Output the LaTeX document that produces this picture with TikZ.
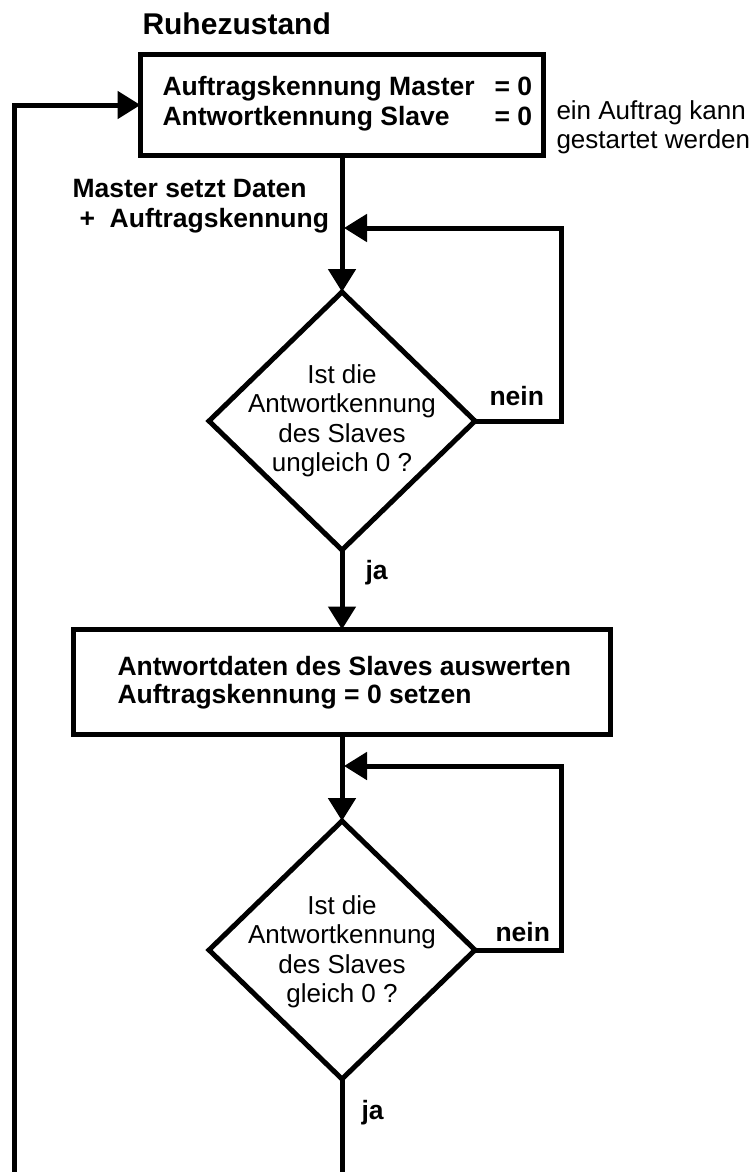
\documentclass[tikz,border=0pt]{standalone}
\usepackage{fontspec}
\setmainfont{Liberation Sans}
\usetikzlibrary{shapes.geometric,arrows.meta}
\begin{document}
\begin{tikzpicture}[x=1pt,y=-1pt,
  line width=5pt,
  arr/.style={-{Triangle[length=23pt,width=27pt]}},
  procbox/.style={draw, rectangle, inner sep=0pt, outer sep=0pt},
  decision/.style={draw, diamond, inner sep=0pt, outer sep=0pt, minimum width=266pt, minimum height=258pt},
  txt/.style={inner sep=0pt, font=\fontsize{26}{29.5}\selectfont, align=center},
  ltxt/.style={inner sep=0pt, font=\fontsize{26}{29.5}\selectfont},
  btxt/.style={inner sep=0pt, font=\fontsize{26.5}{30}\selectfont\bfseries},
  ]
\useasboundingbox (0,0) rectangle (754,1172);
\fill[white] (0,0) rectangle (754,1172);

% title
\node[inner sep=0pt, font=\fontsize{30}{34}\selectfont\bfseries, anchor=base west] (title) at (140,35) {Ruhezustand};

% box 1
\node[procbox, minimum width=403pt, minimum height=101pt] (b1) at (342,105) {};
\node[btxt, anchor=base west] (t1) at (160,95) {\fontsize{26.5}{31}\selectfont\begin{tabular}[t]{@{}l@{\hspace{20pt}}r@{}}Auftragskennung Master & = 0\\ Antwortkennung Slave & = 0\end{tabular}};
\node[ltxt, anchor=base west] (side) at (554,119) {\begin{tabular}[t]{@{}l@{}}ein Auftrag kann\\ gestartet werden\end{tabular}};

% label between
\node[btxt, anchor=base west] (ms) at (70,197) {\begin{tabular}[t]{@{}l@{}}Master setzt Daten\\ \hspace{7pt}+\ \ Auftragskennung\end{tabular}};

% diamond 1
\node[decision] (d1) at (342,421) {};
\node[txt] (d1t) at (342,421) {Ist die\\ Antwortkennung\\ des Slaves\\ ungleich 0 ?};
\node[btxt, anchor=base west] (n1) at (487,405) {nein};
\node[btxt, anchor=base west] (j1) at (363,579) {ja};

% box 2
\node[procbox, minimum width=537pt, minimum height=105pt] (b2) at (342,682) {};
\node[btxt, anchor=base west] (t2) at (115,675) {\fontsize{26.5}{28}\selectfont\begin{tabular}[t]{@{}l@{}}Antwortdaten des Slaves auswerten\\ Auftragskennung = 0 setzen\end{tabular}};

% diamond 2
\node[decision] (d2) at (342,950) {};
\node[txt] (d2t) at (342,952) {Ist die\\ Antwortkennung\\ des Slaves\\ gleich 0 ?};
\node[btxt, anchor=base west] (n2) at (493,941) {nein};
\node[btxt, anchor=base west] (j2) at (359,1119) {ja};

% coordinates
\coordinate (j1p) at (344,228);
\coordinate (j2p) at (344,766);
\coordinate (r1) at (561,228);
\coordinate (r2) at (561,766);
\coordinate (bend) at (342,1172);
\coordinate (bl) at (14,1172);

% connectors
\draw[arr] (b1.south) -- (d1.north);
\draw[arr] (d1.east) -| (r1) -- (j1p);
\draw[arr] (d1.south) -- (b2.north);
\draw[arr] (b2.south) -- (d2.north);
\draw[arr] (d2.east) -| (r2) -- (j2p);
\draw (d2.south) -- (bend);
\draw[arr] (bl) |- (b1.west);
\end{tikzpicture}
\end{document}
